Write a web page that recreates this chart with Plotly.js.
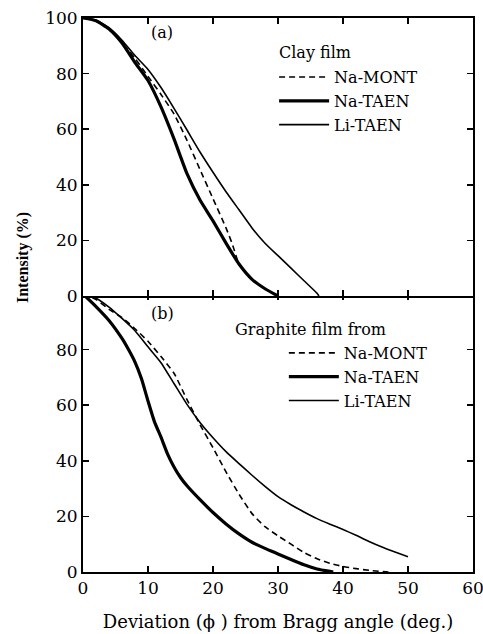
<!DOCTYPE html>
<html>
<head>
<meta charset="utf-8">
<script src="https://cdn.plot.ly/plotly-3.0.1.min.js"></script>
<style>html,body{margin:0;padding:0;background:#fff;}#chart{width:483px;height:634px;}</style>
</head>
<body>
<div id="chart"></div>
<script>
// (a) Clay film
const a_x_naMONT = [0, 2, 4, 6, 8, 10, 12, 14, 16, 18, 20, 22, 23, 24, 26, 28, 30];
const a_y_naMONT = [100, 99, 96, 91, 85.5, 79, 72.5, 65.5, 56, 45.5, 35, 24.5, 18.5, 11.5, 6, 2.6, 0];
const a_x_naTAEN = [0, 2, 4, 6, 8, 10, 12, 14, 16, 18, 20, 22, 24, 26, 28, 30];
const a_y_naTAEN = [100, 99, 96, 91, 84, 77.5, 68, 56.5, 44, 34.5, 27, 19, 11.5, 6, 2.6, 0];
const a_x_liTAEN = [0, 2, 4, 6, 8, 10, 12, 14, 16, 18, 20, 22, 24, 26, 28, 30, 32, 34, 36, 36.3];
const a_y_liTAEN = [100, 99.2, 96.5, 92, 86.5, 81.5, 75, 67.5, 59.7, 51.8, 44.5, 37.5, 31, 24.5, 19, 14.5, 10, 5.5, 1, 0];

// (b) Graphite film from
const b_x_naMONT = [0, 2, 4, 6, 8, 10, 12, 14, 16, 18, 20, 22, 24, 26, 28, 30, 32, 34, 36, 38, 40, 42, 44, 47];
const b_y_naMONT = [100, 98, 94.5, 91.5, 87.5, 83, 77.5, 71.5, 62, 53, 44.7, 36, 28, 21, 16.3, 13, 10, 7, 4.8, 3.1, 2, 1.2, 0.6, 0];
const b_x_naTAEN = [0, 2, 4, 6, 7, 8, 9, 10, 11, 12, 13, 14, 15, 16, 18, 20, 22, 24, 26, 28, 30, 32, 34, 36, 38, 38.5];
const b_y_naTAEN = [100, 95.5, 90.5, 84, 80, 75.5, 69.5, 61.5, 54, 48.5, 42.5, 37.8, 34, 31, 26, 21.4, 17.3, 13.7, 10.7, 8.5, 6.5, 4.5, 2.6, 1.1, 0.2, 0];
const b_x_liTAEN = [0, 2, 4, 6, 8, 10, 12, 14, 16, 18, 20, 22, 24, 26, 28, 30, 32, 34, 36, 38, 40, 42, 44, 46, 48, 50];
const b_y_liTAEN = [100, 98.5, 95.3, 91.2, 86.8, 81, 75.3, 67.8, 60.3, 53.8, 48.3, 43.3, 39, 34.8, 30.8, 27.1, 24.2, 21.6, 19.2, 17.2, 15.3, 13.2, 11, 9, 7.2, 5.5];

const xTicks = [0, 10, 20, 30, 40, 50, 60];
const yTicksTop = [0, 20, 40, 60, 80, 100];
const yTicksBottom = [0, 20, 40, 60, 80];
const seriesNames = ["Na-MONT", "Na-TAEN", "Li-TAEN"];
const legendTitles = ["Clay film", "Graphite film from"];
const panelLabels = ["(a)", "(b)"];
const xTitle = "Deviation (\u03D5 ) from Bragg angle (deg.)";
const yTitle = "Intensity (%)";

const FONT = "'DejaVu Serif', 'Liberation Serif', serif";
const styles = [
  {color: "#000", width: 1.6, dash: "6px,4px"},
  {color: "#000", width: 3.2},
  {color: "#000", width: 1.6}
];

const traces = [
  {x: a_x_naMONT, y: a_y_naMONT, name: seriesNames[0], xaxis: "x2", yaxis: "y2", legend: "legend", line: styles[0]},
  {x: a_x_naTAEN, y: a_y_naTAEN, name: seriesNames[1], xaxis: "x2", yaxis: "y2", legend: "legend", line: styles[1]},
  {x: a_x_liTAEN, y: a_y_liTAEN, name: seriesNames[2], xaxis: "x2", yaxis: "y2", legend: "legend", line: styles[2]},
  {x: b_x_naMONT, y: b_y_naMONT, name: seriesNames[0], xaxis: "x", yaxis: "y", legend: "legend2", line: styles[0]},
  {x: b_x_naTAEN, y: b_y_naTAEN, name: seriesNames[1], xaxis: "x", yaxis: "y", legend: "legend2", line: styles[1]},
  {x: b_x_liTAEN, y: b_y_liTAEN, name: seriesNames[2], xaxis: "x", yaxis: "y", legend: "legend2", line: styles[2]}
].map(t => Object.assign({type: "scatter", mode: "lines", showlegend: true}, t,
  {line: Object.assign({shape: "spline", smoothing: 0.5}, t.line)}));

const axisCommon = {
  showline: true, linecolor: "#000", linewidth: 2,
  ticks: "inside", ticklen: 6, tickwidth: 1.5, tickcolor: "#000",
  mirror: "ticks", showgrid: false, zeroline: false,
  ticklabeloverflow: "allow",
  tickfont: {family: FONT, size: 17, color: "#000"}
};

const legendCommon = {
  bgcolor: "rgba(0,0,0,0)", borderwidth: 0,
  font: {family: FONT, size: 16, color: "#000"},
  itemwidth: 50, tracegroupgap: 0,
  xanchor: "left", yanchor: "top"
};

const gap = 1 / 554;
const layout = {
  width: 483, height: 634,
  margin: {l: 83, r: 10, t: 18, b: 62},
  paper_bgcolor: "#fff", plot_bgcolor: "#fff",
  showlegend: true,
  font: {family: FONT, color: "#000"},
  xaxis: Object.assign({}, axisCommon, {anchor: "y", domain: [0, 1], range: [0, 60], tickvals: xTicks,
    title: {text: xTitle, font: {family: FONT, size: 18, color: "#000"}, standoff: 18}}),
  xaxis2: Object.assign({}, axisCommon, {anchor: "y2", domain: [0, 1], range: [0, 60], tickvals: xTicks, showticklabels: false}),
  yaxis: Object.assign({}, axisCommon, {anchor: "x", domain: [0, 0.5 + gap], range: [0, 100], tickvals: yTicksBottom}),
  yaxis2: Object.assign({}, axisCommon, {anchor: "x2", domain: [0.5 - gap, 1], range: [0, 100], tickvals: yTicksTop}),
  legend: Object.assign({}, legendCommon, {x: 0.49, y: 0.924}),
  legend2: Object.assign({}, legendCommon, {x: 0.515, y: 0.426}),
  annotations: [
    {text: legendTitles[0], xref: "paper", yref: "paper", x: 0.497, y: 0.9386, xanchor: "left", yanchor: "middle", showarrow: false, font: {family: FONT, size: 16, color: "#000"}},
    {text: legendTitles[1], xref: "paper", yref: "paper", x: 0.385, y: 0.4386, xanchor: "left", yanchor: "middle", showarrow: false, font: {family: FONT, size: 16, color: "#000"}},
    {text: panelLabels[0], xref: "paper", yref: "paper", x: 0.203, y: 0.973, xanchor: "center", yanchor: "middle", showarrow: false, font: {family: FONT, size: 16, color: "#000"}},
    {text: panelLabels[1], xref: "paper", yref: "paper", x: 0.205, y: 0.467, xanchor: "center", yanchor: "middle", showarrow: false, font: {family: FONT, size: 16, color: "#000"}},
    {text: yTitle, xref: "paper", yref: "paper", x: -0.152, y: 0.568, xanchor: "center", yanchor: "middle", textangle: -90, showarrow: false, font: {family: "'Liberation Serif', serif", size: 16, color: "#000", weight: "bold"}}
  ]
};

Plotly.newPlot("chart", traces, layout, {staticPlot: true, displayModeBar: false});
</script>
</body>
</html>
